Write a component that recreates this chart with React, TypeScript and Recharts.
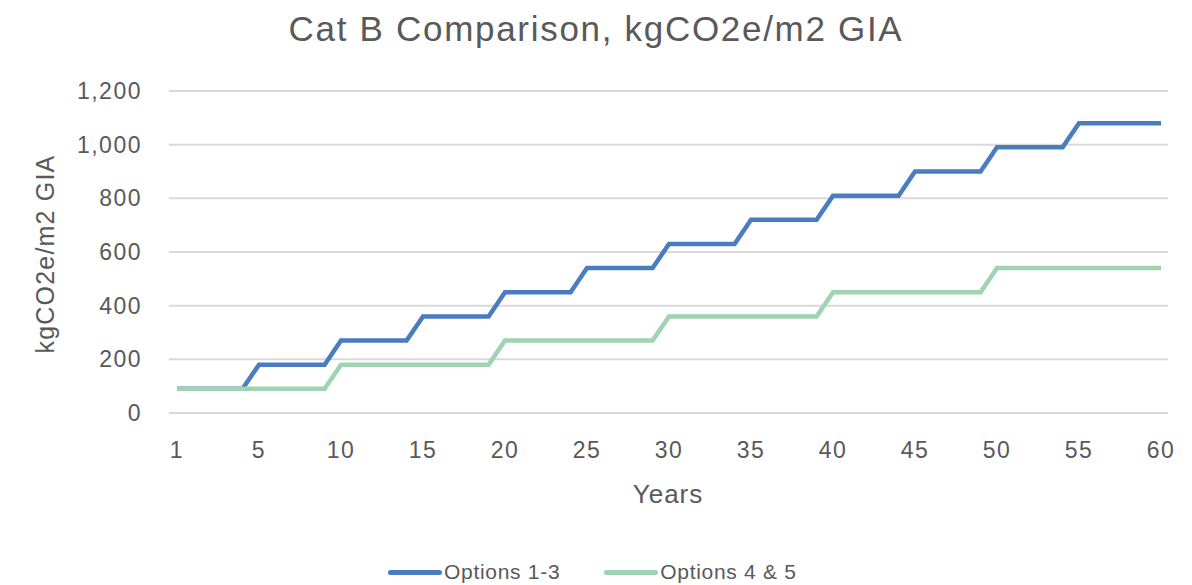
import React from "react";
import { LineChart, Line, XAxis, YAxis, CartesianGrid } from "recharts";

// year position 0 is the first year (labelled "1" on the axis)
const years = [
  0, 1, 2, 3, 4, 5, 6, 7, 8, 9, 10, 11, 12, 13, 14, 15, 16, 17, 18, 19, 20,
  21, 22, 23, 24, 25, 26, 27, 28, 29, 30, 31, 32, 33, 34, 35, 36, 37, 38, 39,
  40, 41, 42, 43, 44, 45, 46, 47, 48, 49, 50, 51, 52, 53, 54, 55, 56, 57, 58,
  59, 60,
];

const options13 = [
  90, 90, 90, 90, 90, 180, 180, 180, 180, 180, 270, 270, 270, 270, 270, 360,
  360, 360, 360, 360, 450, 450, 450, 450, 450, 540, 540, 540, 540, 540, 630,
  630, 630, 630, 630, 720, 720, 720, 720, 720, 810, 810, 810, 810, 810, 900,
  900, 900, 900, 900, 990, 990, 990, 990, 990, 1080, 1080, 1080, 1080, 1080,
  1080,
];

const options45 = [
  90, 90, 90, 90, 90, 90, 90, 90, 90, 90, 180, 180, 180, 180, 180, 180, 180,
  180, 180, 180, 270, 270, 270, 270, 270, 270, 270, 270, 270, 270, 360, 360,
  360, 360, 360, 360, 360, 360, 360, 360, 450, 450, 450, 450, 450, 450, 450,
  450, 450, 450, 540, 540, 540, 540, 540, 540, 540, 540, 540, 540, 540,
];

const xTicks = [0, 5, 10, 15, 20, 25, 30, 35, 40, 45, 50, 55, 60];
const xTickLabels = ["1", "5", "10", "15", "20", "25", "30", "35", "40", "45", "50", "55", "60"];
const yTicks = [0, 200, 400, 600, 800, 1000, 1200];

const data = years.map((y, i) => ({ year: y, a: options13[i], b: options45[i] }));

const BLUE = "#4a7cc0";
const GREEN = "#9fd3b1";
const TEXT = "#595959";
const FONT = "'Liberation Sans', Arial, sans-serif";

const App = () => {
  return (
    <div style={{ position: "absolute", left: 0, top: 0, width: 1192, height: 585, background: "#fff", fontFamily: FONT, color: TEXT }}>
      <div style={{ position: "absolute", left: 0, width: 1192, top: 9, textAlign: "center", fontSize: 35, letterSpacing: 1.7 }}>
        Cat B Comparison, kgCO2e/m2 GIA
      </div>
      <LineChart width={1192} height={585} data={data} margin={{ top: 91, right: 24, bottom: 142, left: 59 }}>
        <CartesianGrid vertical={false} stroke="#d9d9d9" strokeWidth={2} />
        <XAxis
          dataKey="year"
          type="number"
          domain={[0, 60]}
          ticks={xTicks}
          tickFormatter={(v) => xTickLabels[xTicks.indexOf(v)]}
          padding={{ left: 8, right: 7 }}
          height={30}
          axisLine={false}
          tickLine={false}
          tickSize={0}
          tickMargin={29}
          tick={{ fill: TEXT, fontSize: 23, fontFamily: FONT, letterSpacing: 1.5 }}
        />
        <YAxis
          domain={[0, 1200]}
          ticks={yTicks}
          width={110}
          axisLine={false}
          tickLine={false}
          tickSize={0}
          tickMargin={27}
          tickFormatter={(v) => v.toLocaleString("en-US")}
          tick={{ fill: TEXT, fontSize: 23, fontFamily: FONT, letterSpacing: 1.5 }}
        />
        <Line type="linear" dataKey="a" stroke={BLUE} strokeWidth={4.5} dot={false} isAnimationActive={false} />
        <Line type="linear" dataKey="b" stroke={GREEN} strokeWidth={4.5} dot={false} isAnimationActive={false} />
      </LineChart>
      <div style={{ position: "absolute", left: 45, top: 254, transform: "translate(-50%, -50%) rotate(-90deg)", fontSize: 25, letterSpacing: 1.2, whiteSpace: "nowrap" }}>
        kgCO2e/m2 GIA
      </div>
      <div style={{ position: "absolute", left: 668, top: 494, transform: "translate(-50%, -50%)", fontSize: 26, letterSpacing: 1 }}>
        Years
      </div>
      <div style={{ position: "absolute", left: 388, top: 572, transform: "translateY(-50%)", display: "flex", alignItems: "center", fontSize: 21, letterSpacing: 0.7, whiteSpace: "nowrap" }}>
        <span style={{ display: "inline-block", width: 54, height: 5, background: BLUE, borderRadius: 3 }} />
        <span style={{ marginLeft: 2 }}>Options 1-3</span>
        <span style={{ display: "inline-block", width: 54, height: 5, background: GREEN, borderRadius: 3, marginLeft: 44 }} />
        <span style={{ marginLeft: 2 }}>Options 4 &amp; 5</span>
      </div>
    </div>
  );
};

export default App;
